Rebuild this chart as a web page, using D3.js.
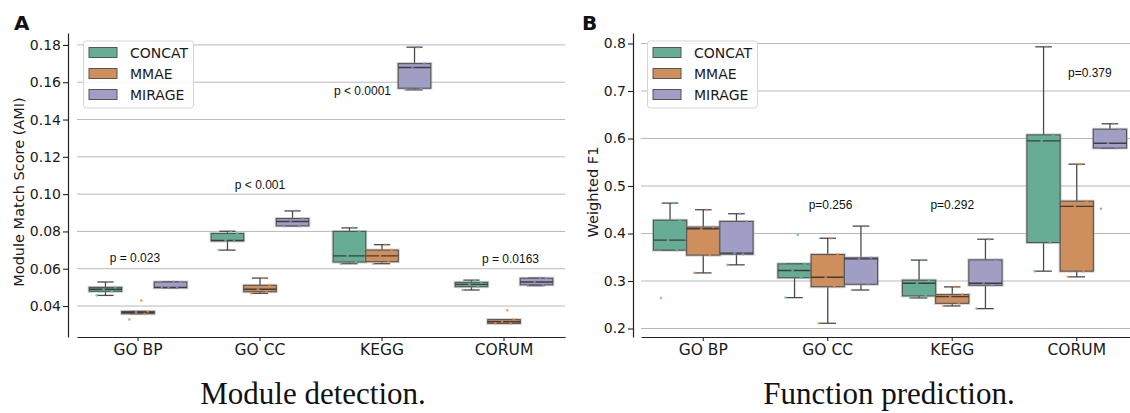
<!DOCTYPE html>
<html>
<head>
<meta charset="utf-8">
<script src="https://cdn.jsdelivr.net/npm/d3@7"></script>
<style>
  body { margin: 0; background: #fff; }
  svg { display: block; }
</style>
</head>
<body>
<svg id="fig" width="1130" height="413"></svg>
<script>
const categories = ['GO BP', 'GO CC', 'KEGG', 'CORUM'];
const methods = ['CONCAT', 'MMAE', 'MIRAGE'];

// Module detection (AMI), five runs per box, one row per category
const amiConcat = [
    [0.0457, 0.0479, 0.0490, 0.0500, 0.0529],
    [0.0700, 0.0749, 0.0752, 0.0789, 0.0801],
    [0.0627, 0.0636, 0.0669, 0.0800, 0.0819],
    [0.0486, 0.0504, 0.0516, 0.0527, 0.0539]
];
const amiMmae = [
    [0.0328, 0.0359, 0.0366, 0.0371, 0.0429],
    [0.0468, 0.0477, 0.0490, 0.0511, 0.0550],
    [0.0627, 0.0638, 0.0669, 0.0700, 0.0729],
    [0.0307, 0.0307, 0.0316, 0.0327, 0.0377]
];
const amiMirage = [
    [0.0498, 0.0498, 0.0500, 0.0529, 0.0530],
    [0.0830, 0.0830, 0.0853, 0.0869, 0.0910],
    [0.1559, 0.1568, 0.1679, 0.1700, 0.1788],
    [0.0509, 0.0514, 0.0529, 0.0549, 0.0550]
];

// Function prediction (weighted F1)
const f1Concat = [
    [0.264, 0.365, 0.386, 0.428, 0.464],
    [0.265, 0.307, 0.322, 0.336, 0.397],
    [0.2643, 0.2686, 0.2954, 0.3017, 0.344],
    [0.3207, 0.381, 0.595, 0.6076, 0.793]
];
const f1Mmae = [
    [0.317, 0.3545, 0.410, 0.4135, 0.450],
    [0.211, 0.288, 0.308, 0.3557, 0.390],
    [0.2475, 0.253, 0.267, 0.2713, 0.2876],
    [0.3087, 0.3207, 0.457, 0.468, 0.546]
];
const f1Mirage = [
    [0.334, 0.3565, 0.3586, 0.4254, 0.4416],
    [0.281, 0.2932, 0.3466, 0.3487, 0.4156],
    [0.2418, 0.291, 0.2954, 0.3445, 0.388],
    [0.452, 0.580, 0.590, 0.6195, 0.631]
];

const amiTicks = [0.04, 0.06, 0.08, 0.10, 0.12, 0.14, 0.16, 0.18];
const f1Ticks = [0.2, 0.3, 0.4, 0.5, 0.6, 0.7, 0.8];

const amiPText = ['p = 0.023', 'p < 0.001', 'p < 0.0001', 'p = 0.0163'];
const amiPAt = [0.0658, 0.1049, 0.1553, 0.0652];
const f1PText = ['p=0.256', 'p=0.292', 'p=0.379'];
const f1PCat = ['GO CC', 'KEGG', 'CORUM'];
const f1PAt = [0.4615, 0.4615, 0.7394];

const fills = ['#67ad96', '#cf8f5c', '#a19ec5'];
const dots = ['#5cc29f', '#f5883f', '#8e8fd0'];

const svg = d3.select('#fig');
const jitter = [-0.27, 0.2, -0.06, 0.3, 0.1];

const stats = function (vals) {
    const s = vals.slice().sort(d3.ascending);
    const q1 = d3.quantile(s, 0.25),
        med = d3.quantile(s, 0.5),
        q3 = d3.quantile(s, 0.75),
        iqr = q3 - q1;
    return {
        q1, med, q3,
        lo: d3.min(s.filter(v => v >= q1 - 1.5 * iqr)),
        hi: d3.max(s.filter(v => v <= q3 + 1.5 * iqr))
    };
};

const drawPanel = function (cfg) {
    const g = svg.append('g');

    const x = d3.scaleBand().domain(categories).range([cfg.x0, cfg.x1]);
    const sub = d3.scaleBand().domain(methods)
        .range([-0.4 * x.bandwidth(), 0.4 * x.bandwidth()]);
    const y = d3.scaleLinear().domain(cfg.yDomain).range([337, 33]);
    const bw = sub.bandwidth();

    // grid
    g.append('g').selectAll('line')
        .data(cfg.ticks)
        .join('line')
        .attr('x1', cfg.x0).attr('x2', cfg.x1)
        .attr('y1', d => y(d)).attr('y2', d => y(d))
        .attr('stroke', '#b9b9b9').attr('stroke-width', 1);

    // boxes
    cfg.series.forEach(function (rows, mi) {
        rows.forEach(function (vals, ci) {
            const st = stats(vals);
            const left = x(categories[ci]) + x.bandwidth() / 2 + sub(methods[mi]);
            const cx = left + bw / 2;
            const bg = g.append('g');

            [[st.hi, st.q3], [st.lo, st.q1]].forEach(function (w) {
                if (Math.abs(w[0] - w[1]) < 1e-9) return;
                bg.append('line')
                    .attr('x1', cx).attr('x2', cx)
                    .attr('y1', y(w[0])).attr('y2', y(w[1]))
                    .attr('stroke', '#4a4a4a').attr('stroke-width', 1.3);
            });
            [st.hi, st.lo].forEach(function (v) {
                bg.append('line')
                    .attr('x1', cx - bw / 4).attr('x2', cx + bw / 4)
                    .attr('y1', y(v)).attr('y2', y(v))
                    .attr('stroke', '#4a4a4a').attr('stroke-width', 1.3);
            });

            bg.append('rect')
                .attr('x', left).attr('y', y(st.q3))
                .attr('width', bw).attr('height', Math.max(y(st.q1) - y(st.q3), 0.5))
                .attr('fill', 'none')
                .attr('stroke', 'rgba(150,150,150,0.45)').attr('stroke-width', 3);
            bg.append('rect')
                .attr('x', left).attr('y', y(st.q3))
                .attr('width', bw).attr('height', Math.max(y(st.q1) - y(st.q3), 0.5))
                .attr('fill', fills[mi])
                .attr('stroke', '#555').attr('stroke-width', 1.1);
            bg.append('line')
                .attr('x1', left).attr('x2', left + bw)
                .attr('y1', y(st.med)).attr('y2', y(st.med))
                .attr('stroke', '#3d3d3d').attr('stroke-width', 1.4);

            bg.selectAll('circle')
                .data(vals)
                .join('circle')
                .attr('cx', (d, i) => cx + jitter[i % jitter.length] * bw)
                .attr('cy', d => y(d))
                .attr('r', 1.3)
                .attr('fill', dots[mi])
                .attr('opacity', 0.8);
        });
    });

    // axes
    const yAxis = g.append('g')
        .attr('transform', `translate(${cfg.yAxisX},0)`)
        .call(d3.axisLeft(y).tickValues(cfg.ticks).tickFormat(cfg.fmt)
            .tickSize(5).tickSizeOuter(0).tickPadding(2));
    const xAxis = g.append('g')
        .attr('transform', 'translate(0,337)')
        .call(d3.axisBottom(x).tickSize(4).tickSizeOuter(0).tickPadding(3));

    [yAxis, xAxis].forEach(function (a) {
        a.select('.domain').attr('stroke', '#222').attr('stroke-width', 1.2);
        a.selectAll('.tick line').attr('stroke', '#222').attr('stroke-width', 1.1);
        a.selectAll('text').attr('fill', '#1a1a1a').attr('font-family', 'DejaVu Sans');
    });
    yAxis.selectAll('text').attr('font-size', 14);
    xAxis.selectAll('text').attr('font-size', 15.5);

    g.append('text')
        .attr('transform', `translate(${cfg.yLabelX},192) rotate(-90)`)
        .attr('text-anchor', 'middle')
        .attr('dy', '0.35em')
        .attr('font-family', 'DejaVu Sans').attr('font-size', 14.5)
        .attr('fill', '#1a1a1a')
        .text(cfg.yLabel);

    // p values
    cfg.pText.forEach(function (t, i) {
        const cat = cfg.pCat[i];
        g.append('text')
            .attr('x', x(cat) + x.bandwidth() / 2 + cfg.pShift[i] * x.bandwidth())
            .attr('y', y(cfg.pAt[i]))
            .attr('dy', '0.36em')
            .attr('text-anchor', cfg.pAnchor[i])
            .attr('font-family', 'Liberation Sans, Arial, sans-serif')
            .attr('font-size', 12)
            .attr('fill', '#111')
            .text(t);
    });

    // legend
    const lx = cfg.x0 + 6.5;
    const lg = g.append('g').attr('transform', `translate(${lx},41)`);
    lg.append('rect')
        .attr('width', 110).attr('height', 67).attr('rx', 3)
        .attr('fill', 'rgba(255,255,255,0.85)')
        .attr('stroke', '#d5d5d5').attr('stroke-width', 1);
    methods.forEach(function (m, i) {
        const cy = 11.5 + i * 21;
        lg.append('rect')
            .attr('x', 5.5).attr('y', cy - 5)
            .attr('width', 28).attr('height', 10)
            .attr('fill', fills[i]).attr('stroke', '#555').attr('stroke-width', 1);
        lg.append('text')
            .attr('x', 46.5).attr('y', cy).attr('dy', '0.36em')
            .attr('font-family', 'DejaVu Sans').attr('font-size', 14)
            .attr('fill', '#1a1a1a')
            .text(m);
    });

    svg.append('text')
        .attr('x', cfg.letterX).attr('y', 30)
        .attr('font-family', 'DejaVu Sans').attr('font-weight', 'bold')
        .attr('font-size', 20).attr('fill', '#111')
        .text(cfg.letter);

    svg.append('text')
        .attr('x', cfg.captionX).attr('y', 404)
        .attr('text-anchor', 'middle')
        .attr('font-family', 'Liberation Serif, Times New Roman, serif')
        .attr('font-size', 31).attr('fill', '#111')
        .text(cfg.caption);
};

drawPanel({
    x0: 77, x1: 565, yAxisX: 68,
    yDomain: [0.0234, 0.1864],
    ticks: amiTicks, fmt: d3.format('.2f'),
    series: [amiConcat, amiMmae, amiMirage],
    yLabel: 'Module Match Score (AMI)', yLabelX: 19,
    pText: amiPText, pCat: categories, pAt: amiPAt,
    pShift: [-0.025, 0, 0.074, 0.053],
    pAnchor: ['middle', 'middle', 'end', 'middle'],
    letter: 'A', letterX: 14,
    caption: 'Module detection.', captionX: 313
});

drawPanel({
    x0: 641, x1: 1139, yAxisX: 633,
    yDomain: [0.1821, 0.8221],
    ticks: f1Ticks, fmt: d3.format('.1f'),
    series: [f1Concat, f1Mmae, f1Mirage],
    yLabel: 'Weighted F1', yLabelX: 593,
    pText: f1PText, pCat: f1PCat, pAt: f1PAt,
    pShift: [0.022, 0, 0.105],
    pAnchor: ['middle', 'middle', 'middle'],
    letter: 'B', letterX: 582,
    caption: 'Function prediction.', captionX: 889
});
</script>
</body>
</html>
